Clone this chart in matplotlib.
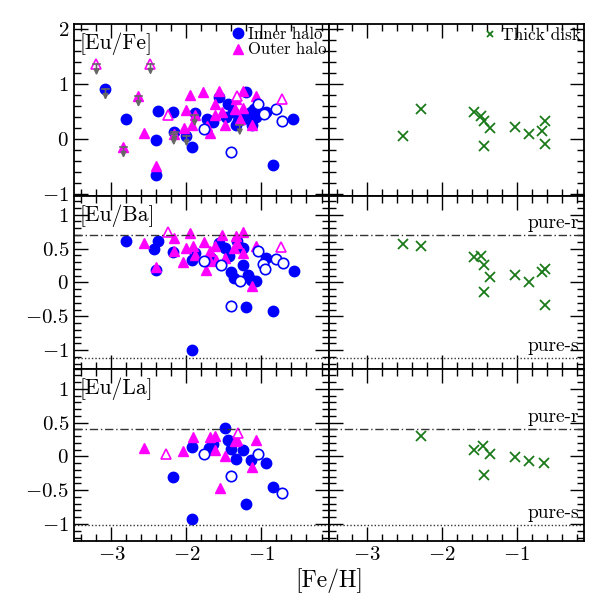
import numpy as np
import matplotlib
matplotlib.use("Agg")
import matplotlib.pyplot as plt
from matplotlib.ticker import MultipleLocator, FuncFormatter

plt.rcParams['font.family'] = 'serif'
plt.rcParams['font.serif'] = ['cmr10']
plt.rcParams['mathtext.fontset'] = 'cm'
plt.rcParams['axes.formatter.use_mathtext'] = True
plt.rcParams['axes.unicode_minus'] = True

# ---- [Eu/Fe] ----
fe_in_x = [-2.81, -2.38, -2.41, -2.40, -2.18, -1.92, -1.88, -1.72, -1.64, -1.56, -1.44, -1.38,
           -1.34, -1.20, -1.25, -1.14, -1.12, -1.07, -0.94, -0.84, -0.58, -1.47, -1.31, -1.18, -1.10,
           -3.08, -2.16, -2.00]
fe_in_y = [0.37, 0.51, -0.02, -0.67, 0.49, -0.15, 0.48, 0.37, 0.30, 0.76, 0.64, 0.49,
           0.26, 0.85, 0.37, 0.49, 0.26, 0.40, 0.49, -0.48, 0.37, 0.40, 0.33, 0.38, 0.55,
           0.91, 0.13, 0.06]
fe_in_open_x = [-1.76, -1.41, -1.04, -0.96, -0.80, -0.72]
fe_in_open_y = [0.18, -0.24, 0.64, 0.45, 0.54, 0.32]
fe_out_x = [-2.64, -2.84, -2.56, -2.40, -2.17, -2.03, -2.00, -1.95, -1.92, -1.89, -1.78, -1.72,
            -1.69, -1.62, -1.62, -1.56, -1.52, -1.49, -1.35, -1.34, -1.29, -1.24, -1.24, -1.12, -1.07]
fe_out_y = [0.78, -0.15, 0.11, -0.49, 0.08, 0.20, 0.52, 0.80, 0.26, 0.43, 0.85, 0.23,
            0.11, 0.43, 0.64, 0.88, 0.49, 0.26, 0.55, 0.73, 0.37, 0.88, 0.57, 0.26, 0.78]
fe_out_open_x = [-3.20, -2.48, -2.24, -0.73, -1.33]
fe_out_open_y = [1.36, 1.37, 0.43, 0.72, 0.78]
# upper limits (arrows)
ul_x = [-3.20, -2.48, -2.64, -2.84, -3.08, -2.16, -2.00, -1.89, -2.17, -1.29]
ul_y = [1.36, 1.37, 0.78, -0.15, 0.91, 0.13, 0.06, 0.43, 0.08, 0.26]
fe_disk_x = [-2.52, -2.27, -1.57, -1.48, -1.44, -1.35, -1.44, -1.02, -0.83, -0.66, -0.62, -0.62]
fe_disk_y = [0.06, 0.54, 0.49, 0.42, 0.32, 0.20, -0.13, 0.22, 0.09, 0.14, 0.32, -0.10]

# ---- [Eu/Ba] ----
ba_in_x = [-2.80, -2.38, -2.43, -2.40, -2.18, -1.92, -1.88, -1.93, -1.67, -1.56, -1.48, -1.43,
           -1.41, -1.37, -1.32, -1.25, -1.24, -1.21, -1.18, -1.14, -1.07, -0.94, -0.84, -0.57]
ba_in_y = [0.61, 0.61, 0.49, 0.18, 0.45, 0.33, 0.43, -0.99, 0.36, 0.58, 0.51, 0.39,
           0.16, 0.07, 0.61, 0.51, 0.25, -0.36, 0.11, 0.04, 0.02, 0.36, -0.42, 0.17]
ba_in_open_x = [-1.76, -1.54, -1.28, -1.41, -1.04, -0.98, -0.95, -0.80, -0.71]
ba_in_open_y = [0.31, 0.26, 0.02, -0.35, 0.46, 0.27, 0.20, 0.35, 0.28]
ba_out_x = [-2.56, -2.40, -2.17, -2.16, -2.04, -2.00, -1.95, -1.91, -1.89, -1.77, -1.74, -1.69,
            -1.69, -1.62, -1.60, -1.52, -1.49, -1.37, -1.34, -1.32, -1.24, -1.24, -1.12, -1.07]
ba_out_y = [0.58, 0.23, 0.65, 0.47, 0.30, 0.51, 0.73, 0.53, 0.41, 0.59, 0.18, 0.46,
            0.31, 0.53, 0.33, 0.70, 0.36, 0.51, 0.68, 0.58, 0.74, 0.43, -0.06, 0.54]
ba_out_open_x = [-2.25, -0.74]
ba_out_open_y = [0.74, 0.52]
ba_disk_x = [-2.52, -2.27, -1.57, -1.47, -1.44, -1.35, -1.44, -1.02, -0.83, -0.66, -0.62, -0.62]
ba_disk_y = [0.57, 0.53, 0.38, 0.39, 0.25, 0.08, -0.14, 0.11, 0.01, 0.15, 0.20, -0.34]
ba_pure_r, ba_pure_s = 0.70, -1.11

# ---- [Eu/La] ----
la_in_x = [-2.18, -1.92, -1.93, -1.70, -1.65, -1.48, -1.44, -1.40, -1.34, -1.24, -1.21, -1.14, -0.94, -0.84]
la_in_y = [-0.30, 0.14, -0.92, 0.13, 0.19, 0.42, 0.24, 0.11, -0.04, 0.10, -0.70, -0.06, -0.10, -0.45]
la_in_open_x = [-1.76, -1.41, -1.04, -0.72]
la_in_open_y = [0.03, -0.29, 0.04, -0.54]
la_out_x = [-2.56, -2.04, -1.91, -1.69, -1.62, -1.62, -1.49, -1.55, -1.35, -1.32, -1.12, -1.07]
la_out_y = [0.13, 0.08, 0.29, 0.29, 0.30, 0.10, 0.00, -0.46, 0.23, 0.24, -0.15, 0.25]
la_out_open_x = [-2.27, -1.31]
la_out_open_y = [0.03, 0.34]
la_disk_x = [-2.27, -1.57, -1.45, -1.35, -1.44, -1.02, -0.83, -0.63]
la_disk_y = [0.30, 0.10, 0.15, 0.04, -0.27, -0.01, -0.07, -0.10]
la_pure_r, la_pure_s = 0.41, -1.01

blue = '#0000ff'
mag = '#ff00ff'
green = '#1a7a1a'

fig, axes = plt.subplots(3, 2, figsize=(5.99, 5.99), dpi=100, sharex=True)
fig.subplots_adjust(left=0.1235, right=0.975, top=0.96, bottom=0.097, hspace=0, wspace=0)

ylims = [(-1.05, 2.1), (-1.27, 1.27), (-1.25, 1.3)]
labels = ['[Eu/Fe]', '[Eu/Ba]', '[Eu/La]']
halo = [
    (fe_in_x, fe_in_y, fe_in_open_x, fe_in_open_y, fe_out_x, fe_out_y, fe_out_open_x, fe_out_open_y),
    (ba_in_x, ba_in_y, ba_in_open_x, ba_in_open_y, ba_out_x, ba_out_y, ba_out_open_x, ba_out_open_y),
    (la_in_x, la_in_y, la_in_open_x, la_in_open_y, la_out_x, la_out_y, la_out_open_x, la_out_open_y),
]
disk = [(fe_disk_x, fe_disk_y), (ba_disk_x, ba_disk_y), (la_disk_x, la_disk_y)]
lines = [None, (ba_pure_r, ba_pure_s), (la_pure_r, la_pure_s)]

fmt = FuncFormatter(lambda v, p: '$%g$' % v)

for i in range(3):
    axl, axr = axes[i]
    ix, iy, iox, ioy, ox, oy, oox, ooy = halo[i]
    axl.plot(ix, iy, 'o', color=blue, ms=7.5, ls='none', label='Inner halo')
    axl.plot(ox, oy, '^', color=mag, ms=6.5, ls='none', label='Outer halo')
    axl.plot(iox, ioy, 'o', mfc='white', mec=blue, mew=1.2, ms=7.5, ls='none')
    axl.plot(oox, ooy, '^', mfc='white', mec=mag, mew=1.2, ms=6.5, ls='none')
    axr.plot(disk[i][0], disk[i][1], 'x', color=green, ms=6.5, mew=1.3, ls='none', label='Thick disk')

    if i == 0:
        for x, y in zip(ul_x, ul_y):
            axl.annotate('', xy=(x, y - 0.2), xytext=(x, y),
                         arrowprops=dict(arrowstyle='-|>', color='#666666', lw=1.2,
                                         mutation_scale=8, shrinkA=0, shrinkB=0))
            axl.plot([x - 0.05, x + 0.05], [y, y], color='#666666', lw=1.2)
        axl.legend(loc='upper right', frameon=False, fontsize=12, handlelength=0.6,
                   handletextpad=0.3, labelspacing=0.0, borderaxespad=0.1,
                   borderpad=0.05, handleheight=0.5)
        axr.legend(loc='upper right', frameon=False, fontsize=12.5, handlelength=0.6,
                   handletextpad=0.3, borderaxespad=0.1, borderpad=0.1, markerscale=0.7)
    else:
        r, s = lines[i]
        for ax in (axl, axr):
            ax.axhline(r, color='#333333', ls=(0, (6, 2, 1, 2)), lw=1)
            ax.axhline(s, color='#333333', ls=(0, (1, 1.5)), lw=1)
        axr.text(-0.17, r + 0.04, 'pure-r', ha='right', va='bottom', fontsize=14)
        axr.text(-0.17, s + 0.04, 'pure-s', ha='right', va='bottom', fontsize=14)

    axl.text(0.02, 0.95, labels[i], transform=axl.transAxes, ha='left', va='top', fontsize=15.5)

    for ax in (axl, axr):
        ax.set_xlim(-3.5, -0.1)
        ax.set_ylim(*ylims[i])
        ax.xaxis.set_major_locator(MultipleLocator(1))
        ax.xaxis.set_minor_locator(MultipleLocator(0.2))
        if i == 0:
            ax.yaxis.set_major_locator(MultipleLocator(1))
            ax.yaxis.set_minor_locator(MultipleLocator(0.2))
        else:
            ax.yaxis.set_major_locator(MultipleLocator(0.5))
            ax.yaxis.set_minor_locator(MultipleLocator(0.1))
        ax.xaxis.set_major_formatter(fmt)
        ax.yaxis.set_major_formatter(fmt)
        ax.tick_params(which='both', direction='in', top=True, right=True, labelsize=15, width=1)
        ax.tick_params(which='major', length=10)
        ax.tick_params(which='minor', length=5)
        for sp in ax.spines.values():
            sp.set_linewidth(1.3)
    axr.tick_params(labelleft=False)

fig.supxlabel('[Fe/H]', x=0.549, y=0.01, fontsize=17)
fig.savefig('out.png', dpi=100)
